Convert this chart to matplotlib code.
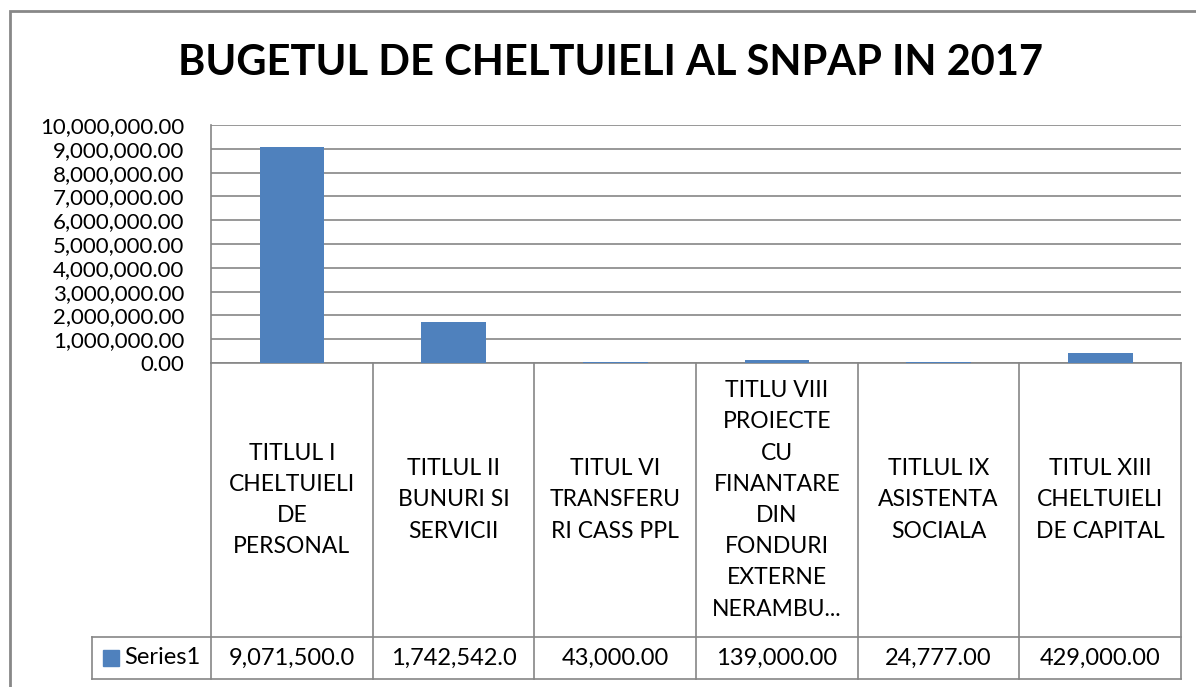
import matplotlib.pyplot as plt
from matplotlib.patches import Rectangle
from matplotlib.ticker import FuncFormatter
import matplotlib.transforms as mtransforms

plt.rcParams['font.family'] = ['Lato', 'DejaVu Sans']

# Data
categories = [
    "TITLUL I\nCHELTUIELI\nDE\nPERSONAL",
    "TITLUL II\nBUNURI SI\nSERVICII",
    "TITUL VI\nTRANSFERU\nRI CASS PPL",
    "TITLU VIII\nPROIECTE\nCU\nFINANTARE\nDIN\nFONDURI\nEXTERNE\nNERAMBU...",
    "TITLUL IX\nASISTENTA\nSOCIALA",
    "TITUL XIII\nCHELTUIELI\nDE CAPITAL",
]
values = [9071500, 1742542, 43000, 139000, 24777, 429000]
series_name = "Series1"
title = "BUGETUL DE CHELTUIELI AL SNPAP IN 2017"

W, H = 1196, 687
fig = plt.figure(figsize=(W / 100, H / 100), dpi=100)

# plot area in pixels
left, right, top, bottom = 211, 1181, 125, 363
ax = fig.add_axes([left / W, 1 - bottom / H, (right - left) / W, (bottom - top) / H])

bar_color = "#4F81BD"
grid_color = "#868686"
x = list(range(len(values)))
ax.bar(x, values, width=0.4, color=bar_color, zorder=3)

ax.set_xlim(-0.5, len(values) - 0.5)
ax.set_ylim(0, 10_000_000)
ax.set_yticks(range(0, 10_000_001, 1_000_000))
ax.yaxis.set_major_formatter(FuncFormatter(lambda v, p: f"{v:,.2f}"))
ax.tick_params(axis="y", length=0, labelsize=16, pad=19, colors="black")
ax.set_xticks([])
ax.grid(axis="y", color=grid_color, linewidth=1.2, zorder=0)
for s in ["top", "right", "bottom"]:
    ax.spines[s].set_visible(False)
ax.spines["left"].set_color(grid_color)
ax.spines["left"].set_linewidth(1.2)

# data table under the axis
tr = mtransforms.blended_transform_factory(ax.transData, ax.transAxes)
row1 = -(637 - bottom) / (bottom - top)
row2 = -(679 - bottom) / (bottom - top)
label_left = -0.5 - (left - 92) / ((right - left) / len(values))
line_kw = dict(color=grid_color, linewidth=1.2, transform=tr, clip_on=False)

n = len(values)
for i in range(n + 1):
    ax.plot([i - 0.5, i - 0.5], [0, row2], **line_kw)
ax.plot([label_left, n - 0.5], [row1, row1], **line_kw)
ax.plot([label_left, n - 0.5], [row2, row2], **line_kw)
ax.plot([label_left, label_left], [row1, row2], **line_kw)
ax.plot([-0.5, n - 0.5], [0, 0], **line_kw)

for i, (cat, v) in enumerate(zip(categories, values)):
    ax.text(i, row1 / 2, cat, transform=tr, ha="center", va="center",
            fontsize=16.5, linespacing=1.6, clip_on=False)
    ax.text(i, (row1 + row2) / 2, f"{v:,.2f}"[:11], transform=tr, ha="center",
            va="center", fontsize=17, clip_on=False)

# legend key in the table
ax.add_patch(Rectangle((label_left + 0.07, (row1 + row2) / 2 - 0.035), 0.1, 0.07,
                       transform=tr, color=bar_color, clip_on=False))
ax.text(label_left + 0.2, (row1 + row2) / 2, series_name, transform=tr,
        ha="left", va="center", fontsize=17, clip_on=False)

fig.text(610 / W, 1 - 63 / H, title, ha="center", va="center",
         fontsize=30, fontweight="bold")

# outer chart border
fig.add_artist(Rectangle((10 / W, 1 - 700 / H), 1200 / W, 689 / H,
                         transform=fig.transFigure, fill=False,
                         edgecolor="#888888", linewidth=2))

fig.savefig("out.png", dpi=100)
